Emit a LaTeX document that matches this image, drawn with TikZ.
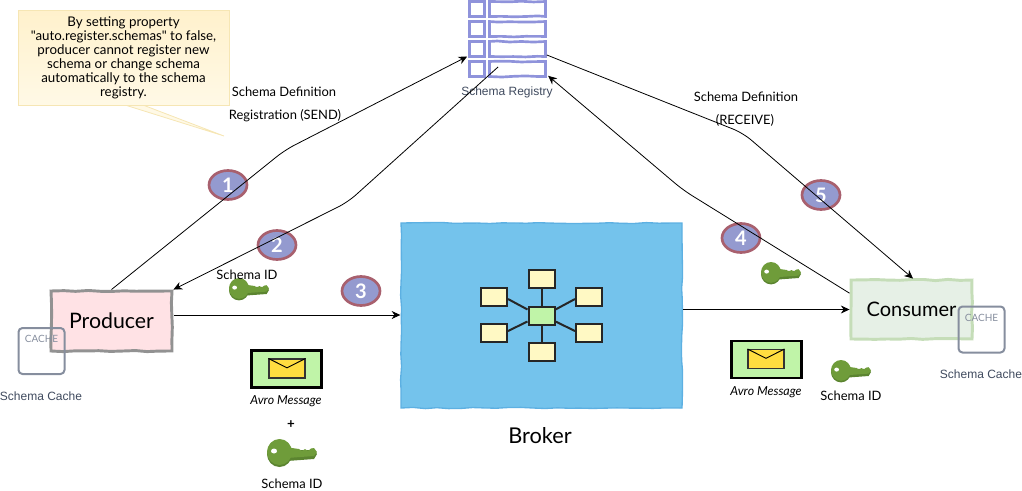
\documentclass[tikz,border=0pt]{standalone}
\usepackage{fontspec}
\setmainfont{Lato}[Ligatures=TeXOff]
\newfontfamily\labelfont{Liberation Sans}
\usetikzlibrary{arrows.meta,decorations.pathmorphing,shapes.geometric}
\def\px{0.75pt}
\definecolor{badgefill}{HTML}{949ACF}
\definecolor{badgeline}{HTML}{A8606E}
\definecolor{regline}{HTML}{8F93DB}
\definecolor{cacheline}{HTML}{868E9E}
\definecolor{labelgray}{HTML}{3F4A5E}
\definecolor{keylight}{HTML}{6F9C3A}
\definecolor{keydark}{HTML}{5B8430}
\definecolor{notetop}{HTML}{FFF1CC}
\definecolor{notebot}{HTML}{FFF9E6}
\definecolor{noteline}{HTML}{F6E6B4}
\definecolor{msggreen}{HTML}{C0F4A8}
\definecolor{envyellow}{HTML}{FFDD40}
\definecolor{hubyellow}{HTML}{FFF9C4}
\definecolor{brokerfill}{HTML}{74C3EC}
\definecolor{brokerline}{HTML}{5DB0E2}
\definecolor{prodfill}{HTML}{FFE2E5}
\definecolor{prodline}{HTML}{929292}
\definecolor{consfill}{HTML}{E6F0E6}
\definecolor{consline}{HTML}{C5DDB8}
\tikzset{
  sketchy/.style={decorate,decoration={random steps,segment length=9pt,amplitude=0.45pt}},
  plain/.style={inner sep=0pt,align=center,font=\fontsize{9.7pt}{10.5pt}\selectfont},
  gray label/.style={inner sep=0pt,font=\labelfont\fontsize{9pt}{11pt}\selectfont,text=labelgray},
  conn/.style={draw=black,line width=0.6pt,rounded corners=8pt},
  connarrow/.style={conn,-{Stealth[length=6.5pt,width=6pt]}},
  badge/.style={ellipse,draw=badgeline,fill=badgefill,line width=2pt,minimum width=38*\px,minimum height=29*\px,inner sep=0pt,text=white,font=\fontsize{15pt}{15pt}\selectfont\bfseries},
  regleft/.style={draw=regline,line width=2pt,sketchy,minimum width=15*\px,minimum height=15*\px,inner sep=0pt},
  regright/.style={draw=regline,line width=2pt,sketchy,minimum width=56*\px,minimum height=15*\px,inner sep=0pt},
  cachebox/.style={draw=cacheline,line width=1.5pt,rounded corners=3pt,minimum width=46*\px,minimum height=46*\px,inner sep=0pt},
  cachetext/.style={inner sep=0pt,font=\fontsize{7.5pt}{8pt}\selectfont,text=cacheline},
  hubbox/.style={draw=black!85,line width=1.5pt,fill=hubyellow,minimum width=26*\px,minimum height=18*\px,inner sep=0pt},
  hubcentre/.style={hubbox,fill=msggreen},
  hubline/.style={draw=black!85,line width=1.5pt},
  msgbox/.style={draw=black,line width=1.6pt,fill=msggreen,minimum width=70*\px,minimum height=37*\px,inner sep=0pt},
  envbox/.style={draw=black!80,line width=0.8pt,fill=envyellow,minimum width=36*\px,minimum height=19*\px,inner sep=0pt},
  pics/keyicon/.style={code={
    \fill[keydark] (12.5,15) ellipse (12.5 and 13);
    \fill[keydark] (20,11)--(47,11)--(50,15)--(47,20)--(20,22)--cycle;
    \fill[keylight] (12.5,13) ellipse (12.5 and 13);
    \fill[keylight] (20,8)--(25,9)--(32,10)--(35,12)--(38,10)--(41,12)--(44,9.5)--(47,9)--(50,13)--(47,17)--(20,19)--cycle;
    \fill[white] (7,12) ellipse (3 and 2.5);
  }}
}
\begin{document}
\begin{tikzpicture}[x=0.75pt,y=-0.75pt]
\useasboundingbox (0,0) rectangle (1022,490);
\pgfmathsetseed{7}

% note
\coordinate (tailtip) at (224,136);
\filldraw[fill=notebot,draw=noteline,line width=0.6pt] (125,105) -- (tailtip) -- (143,105) -- cycle;
\node[draw=noteline,line width=0.75pt,top color=notetop,bottom color=notebot,minimum width=211*\px,minimum height=95*\px,inner sep=0pt,align=center,font=\fontsize{10pt}{10.5pt}\selectfont] (note) at (123.5,57.5) {By setting property\\"auto.register.schemas" to false,\\producer cannot register new\\schema or change schema\\automatically to the schema\\registry.};

% registry
\foreach \n/\yy in {1/9,2/29,3/49,4/69}{
  \node[regleft] (r\n l) at (477,\yy) {};
  \node[regright] (r\n r) at (517.5,\yy) {};
}
\node[gray label] (reglabel) at (507,92) {Schema Registry};

% broker
\node[draw=brokerline,line width=1pt,fill=brokerfill,sketchy,minimum width=281*\px,minimum height=185*\px,inner sep=0pt] (broker) at (541.5,315.5) {};
\node[hubcentre] (hc) at (541.5,315.5) {};
\node[hubbox] (ht) at (541.5,279) {};
\node[hubbox] (hb) at (541.5,351.5) {};
\node[hubbox] (hul) at (494,297) {};
\node[hubbox] (hll) at (494,333) {};
\node[hubbox] (hur) at (589,297) {};
\node[hubbox] (hlr) at (589,333) {};
\draw[hubline] (hc) -- (ht);
\draw[hubline] (hc) -- (hb);
\draw[hubline] ([yshift=-3pt]hc.north west) -- ([yshift=-1.5pt]hul.east);
\draw[hubline] ([yshift=3pt]hc.south west) -- ([yshift=1.5pt]hll.east);
\draw[hubline] ([yshift=-3pt]hc.north east) -- ([yshift=-1.5pt]hur.west);
\draw[hubline] ([yshift=3pt]hc.south east) -- ([yshift=1.5pt]hlr.west);
\node[inner sep=0pt,font=\fontsize{16.3pt}{18pt}\selectfont] (brokerlabel) at (540,436) {Broker};

% producer and consumer
\node[draw=prodline,line width=2.2pt,fill=prodfill,sketchy,minimum width=121*\px,minimum height=60*\px,inner sep=0pt,font=\fontsize{16pt}{18pt}\selectfont] (producer) at (111.5,321) {Producer};
\node[draw=consline,line width=2.2pt,fill=consfill,sketchy,minimum width=121*\px,minimum height=59*\px,inner sep=0pt,font=\fontsize{15pt}{17pt}\selectfont] (consumer) at (911.5,309.5) {Consumer};

% caches
\node[cachebox] (cacheA) at (41.5,351) {};
\node[cachetext] (cacheAt) at (41.5,339) {CACHE};
\node[gray label] (cacheAl) at (41,396) {Schema Cache};
\node[cachebox] (cacheB) at (981.5,329.5) {};
\node[cachetext] (cacheBt) at (981.5,318) {CACHE};
\node[gray label] (cacheBl) at (981,374) {Schema Cache};

% badges
\node[badge] (b1) at (228,185) {1};
\node[badge] (b2) at (277,245) {2};
\node[badge] (b3) at (361,291) {3};
\node[badge] (b4) at (741,238) {4};
\node[badge] (b5) at (821,195) {5};

% connectors
\coordinate (w1) at (285,150);
\coordinate (w2b) at (348,202);
\coordinate (w4) at (683,190);
\coordinate (w5) at (743,133);
\coordinate (c5) at (913,281);
\draw[connarrow] (producer.north) -- (w1) -- ([xshift=-0.75pt,yshift=1pt]r3l.south west);
\draw[connarrow] ([xshift=-14.6pt,yshift=1.5pt]r4r.center) -- (w2b) -- (producer.north east);
\draw[connarrow] ([xshift=0.75pt,yshift=4.5pt]producer.east) -- ([yshift=4.5pt]producer.east -| broker.west);
\draw[connarrow] ([yshift=4.5pt]broker.east) -- ([yshift=4.5pt]broker.east -| consumer.west);
\draw[connarrow] ([yshift=-11pt]consumer.north west) -- (w4) -- ([xshift=1pt,yshift=1.5pt]r4r.south east);
\draw[connarrow] ([yshift=-4.5pt]r3r.east) -- (w5) -- (c5 |- consumer.north);

% labels
\node[plain] (t1a) at (284,92) {Schema Definition};
\node[plain] (t1b) at (285,116) {Registration (SEND)};
\node[plain] (t5a) at (746,97) {Schema Definition};
\node[plain] (t5b) at (745,120) {(RECEIVE)};

% keys
\pic[scale=0.8] at (229,278) {keyicon};
\node[plain] (k1) at (247,275) {Schema ID};
\pic[scale=0.8] at (761,262) {keyicon};
\pic at (267,439) {keyicon};
\node[plain] (k2) at (292,484) {Schema ID};
\pic[scale=0.8] at (831,360) {keyicon};
\node[plain] (k3) at (851,396) {Schema ID};
\node[inner sep=0pt,font=\fontsize{10pt}{10pt}\selectfont\bfseries] (plus) at (291,425) {+};

% messages
\node[msgbox] (m1) at (286.5,369) {};
\node[envbox] (e1) at (287,368.5) {};
\draw[draw=black,line width=0.7pt] (e1.north west) -- ([yshift=-7pt]e1.north) -- (e1.north east);
\node[plain,font=\fontsize{9.3pt}{10pt}\selectfont\itshape] (ml1) at (286,401) {Avro Message};
\node[msgbox] (m2) at (766.5,359.5) {};
\node[envbox] (e2) at (766,359) {};
\draw[draw=black,line width=0.7pt] (e2.north west) -- ([yshift=-7pt]e2.north) -- (e2.north east);
\node[plain,font=\fontsize{9.3pt}{10pt}\selectfont\itshape] (ml2) at (766,392) {Avro Message};
\end{tikzpicture}
\end{document}
